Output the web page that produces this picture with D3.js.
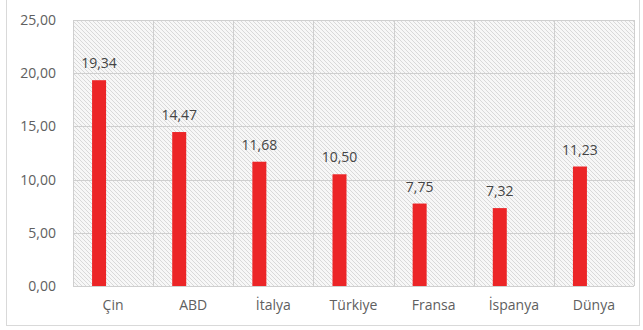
<!DOCTYPE html>
<html><head><meta charset="utf-8">
<script src="https://cdn.jsdelivr.net/npm/d3@7"></script>
<style>body{margin:0;background:#fff}svg{display:block}</style>
</head><body>
<script>
const categories = ["Çin","ABD","İtalya","Türkiye","Fransa","İspanya","Dünya"];
const values = [19.34,14.47,11.68,10.50,7.75,7.32,11.23];
const yTicks = [0,5,10,15,20,25];

const W = 643, H = 330;
const m = {left:73, right:9, top:20, bottom:44};
const svg = d3.select("body").append("svg").attr("width",W).attr("height",H);
const defs = svg.append("defs");
const pat = defs.append("pattern").attr("id","hatch").attr("patternUnits","userSpaceOnUse")
  .attr("width",4).attr("height",4);
pat.append("rect").attr("width",4).attr("height",4).attr("fill","#f7f7f7");
pat.append("path").attr("d","M-1,-1 L5,5 M-1,3 L1,5 M3,-1 L5,1").attr("stroke","#d9d9d9").attr("stroke-width",1);

svg.append("rect").attr("x",6.5).attr("y",-5).attr("width",633).attr("height",330.5)
  .attr("fill","#fff").attr("stroke","#d9d9d9");

const x = d3.scaleBand().domain(categories).range([m.left, W-m.right]);
const y = d3.scaleLinear().domain([0,25]).range([H-m.bottom, m.top]);
const fmt = v => d3.format(".2f")(v).replace(".", ",");
const font = "Open Sans, sans-serif";

svg.append("rect").attr("x",m.left).attr("y",m.top).attr("width",W-m.right-m.left)
  .attr("height",H-m.bottom-m.top).attr("fill","url(#hatch)");

const g = svg.append("g");
g.selectAll(".hg").data(yTicks).join("line")
  .attr("x1",m.left).attr("x2",W-m.right)
  .attr("y1",d=>Math.round(y(d))+0.5).attr("y2",d=>Math.round(y(d))+0.5)
  .attr("stroke","#cfcfcf");
const bounds = categories.map(c=>x(c)).concat([W-m.right]);
g.selectAll(".vg").data(bounds).join("line")
  .attr("x1",d=>Math.round(d)+0.5).attr("x2",d=>Math.round(d)+0.5)
  .attr("y1",m.top).attr("y2",H-m.bottom)
  .attr("stroke","#cfcfcf");

const yAxis = svg.append("g").attr("transform",`translate(${m.left-17},0)`)
  .call(d3.axisLeft(y).tickValues(yTicks).tickFormat(fmt).tickSize(0).tickPadding(0));
yAxis.select(".domain").remove();
yAxis.selectAll("text").attr("font-family",font).attr("font-size",14).attr("fill","#606060");

const xAxis = svg.append("g").attr("transform",`translate(0,${H-m.bottom})`)
  .call(d3.axisBottom(x).tickSize(0).tickPadding(14));
xAxis.select(".domain").remove();
xAxis.selectAll("text").attr("font-family",font).attr("font-size",14).attr("fill","#606060");

const bw = 14;
const bx = c => x(c) + x.bandwidth()/2 - 21;
svg.selectAll(".bar").data(values).join("rect")
  .attr("x",(d,i)=>bx(categories[i])).attr("width",bw)
  .attr("y",d=>y(d)).attr("height",d=>y(0)-y(d))
  .attr("fill","#ec2527");
svg.selectAll(".lbl").data(values).join("text")
  .attr("x",(d,i)=>bx(categories[i])+bw/2).attr("y",d=>y(d)-12)
  .attr("text-anchor","middle").attr("font-family",font)
  .attr("font-size",14).attr("fill","#454545").text(fmt);
</script>
</body></html>
